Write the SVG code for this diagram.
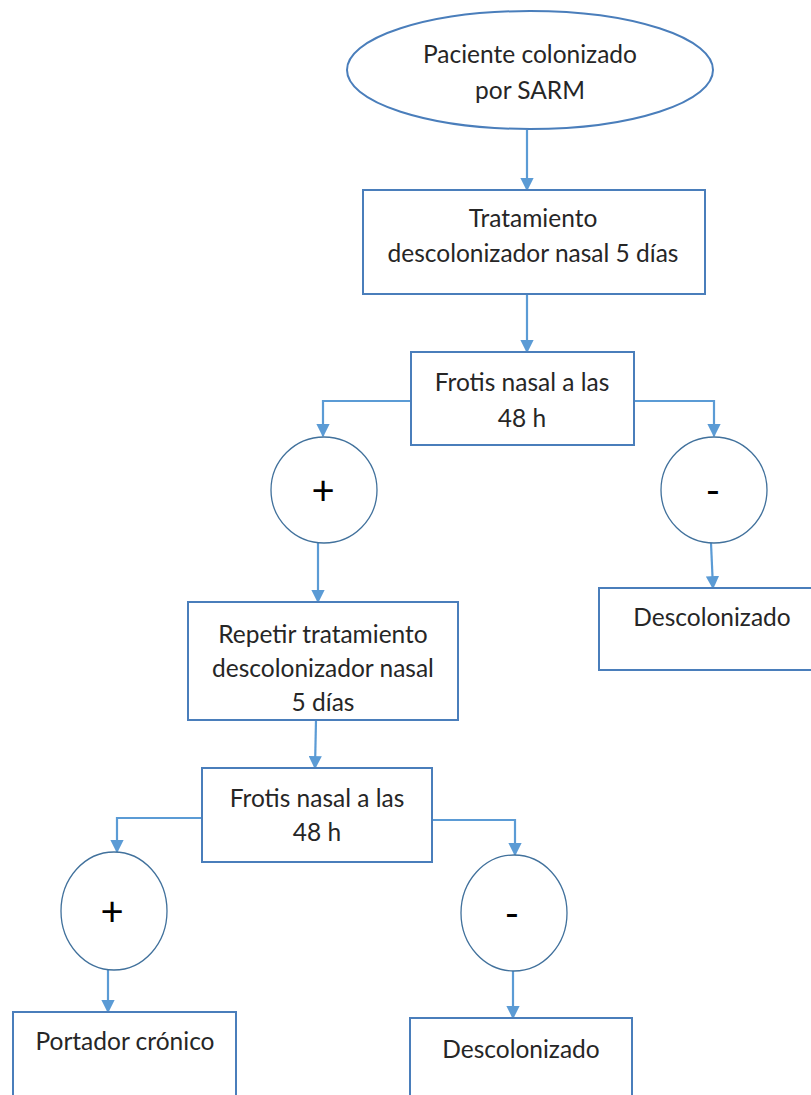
<svg xmlns="http://www.w3.org/2000/svg" width="811" height="1095" viewBox="0 0 811 1095">
  <style>
    .shape { fill: #ffffff; stroke: #4a7ebb; stroke-width: 2; }
    .ring { fill: #ffffff; stroke: #41719c; stroke-width: 1.3; }
    .link { fill: none; stroke: #5b9bd5; stroke-width: 2.2; }
    .label { font-family: Lato, "Open Sans", "Liberation Sans", sans-serif; font-size: 24.5px; fill: #262626; text-anchor: middle; }
    .sign { font-family: Lato, "Liberation Sans", sans-serif; font-size: 40px; fill: #000000; text-anchor: middle; }
  </style>
  <defs>
    <marker id="arrow" viewBox="0 0 10 10" refX="9" refY="5" markerWidth="6" markerHeight="6" orient="auto" markerUnits="strokeWidth">
      <path d="M0,0 L10,5 L0,10 Z" fill="#5b9bd5"/>
    </marker>
  </defs>

  <rect width="811" height="1095" fill="#ffffff"/>

  <!-- connectors -->
  <g id="connectors" class="link" marker-end="url(#arrow)">
    <path d="M527,130 V190"/>
    <path d="M527,294 V352"/>
    <path d="M411,401 H323 V436"/>
    <path d="M634,401 H714 V436"/>
    <path d="M318,543 V602"/>
    <path d="M711,543 L713,588"/>
    <path d="M316,720 L315,768"/>
    <path d="M202,818 H117 V852"/>
    <path d="M432,820 H515 V855"/>
    <path d="M108,970 V1012"/>
    <path d="M513,970 V1018"/>
  </g>

  <!-- start node -->
  <g id="n-start">
    <ellipse class="shape" cx="530" cy="70" rx="183" ry="59"/>
    <text class="label" x="530" y="63">Paciente colonizado</text>
    <text class="label" x="530" y="99">por SARM</text>
  </g>

  <g id="n-tratamiento">
    <rect class="shape" x="363" y="190" width="342" height="104"/>
    <text class="label" x="533" y="227">Tratamiento</text>
    <text class="label" x="533" y="262">descolonizador nasal 5 días</text>
  </g>

  <g id="n-frotis1">
    <rect class="shape" x="411" y="352" width="223" height="93"/>
    <text class="label" x="522" y="391">Frotis nasal a las</text>
    <text class="label" x="522" y="427">48 h</text>
  </g>

  <g id="n-pos1">
    <ellipse class="ring" cx="324" cy="490" rx="53" ry="53"/>
    <text class="sign" x="323" y="505">+</text>
  </g>

  <g id="n-neg1">
    <ellipse class="ring" cx="714" cy="490" rx="53" ry="53"/>
    <text class="sign" x="713" y="505">-</text>
  </g>

  <g id="n-repetir">
    <rect class="shape" x="188" y="602" width="270" height="118"/>
    <text class="label" x="323" y="643">Repetir tratamiento</text>
    <text class="label" x="323" y="677">descolonizador nasal</text>
    <text class="label" x="323" y="711">5 días</text>
  </g>

  <g id="n-descol1">
    <rect class="shape" x="599" y="588" width="220" height="82"/>
    <text class="label" x="712" y="626">Descolonizado</text>
  </g>

  <g id="n-frotis2">
    <rect class="shape" x="202" y="768" width="230" height="94"/>
    <text class="label" x="317" y="807">Frotis nasal a las</text>
    <text class="label" x="317" y="841">48 h</text>
  </g>

  <g id="n-pos2">
    <ellipse class="ring" cx="114" cy="911" rx="53" ry="59"/>
    <text class="sign" x="112" y="926">+</text>
  </g>

  <g id="n-neg2">
    <ellipse class="ring" cx="514" cy="913" rx="53" ry="58"/>
    <text class="sign" x="512" y="928">-</text>
  </g>

  <g id="n-portador">
    <rect class="shape" x="13" y="1012" width="223" height="90"/>
    <text class="label" x="125" y="1050">Portador crónico</text>
  </g>

  <g id="n-descol2">
    <rect class="shape" x="410" y="1018" width="222" height="90"/>
    <text class="label" x="521" y="1058">Descolonizado</text>
  </g>
</svg>
